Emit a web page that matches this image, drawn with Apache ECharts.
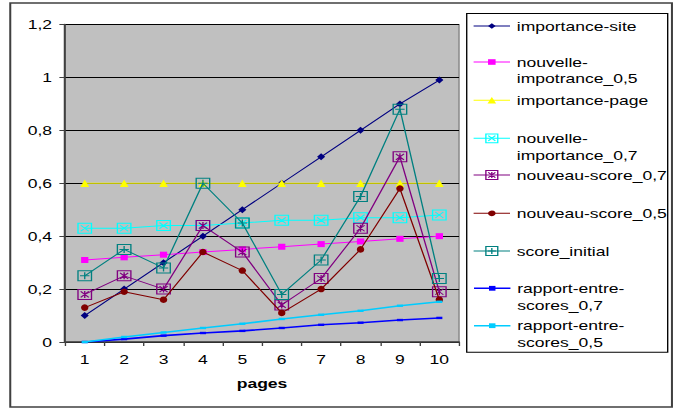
<!DOCTYPE html>
<html>
<head>
<meta charset="utf-8">
<script src="https://cdn.jsdelivr.net/npm/echarts@6/dist/echarts.min.js"></script>
<style>
  html, body { margin: 0; padding: 0; background: #fff; overflow: hidden; }
  /* drawn on a narrower canvas, then widened to the window with a horizontal stretch */
  #chart { width: 501px; height: 408px; transform: scaleX(1.3493); transform-origin: 0 0; }
</style>
</head>
<body>
<div id="chart"></div>
<script>
// ---- data ----
const pages = ['1', '2', '3', '4', '5', '6', '7', '8', '9', '10'];
const importanceSite        = [0.10, 0.20, 0.30, 0.40, 0.50, 0.60, 0.70, 0.80, 0.90, 0.99];
const nouvelleImportance05  = [0.31, 0.32, 0.33, 0.34, 0.35, 0.36, 0.37, 0.38, 0.39, 0.40];
const importancePage        = [0.60, 0.60, 0.60, 0.60, 0.60, 0.60, 0.60, 0.60, 0.60, 0.60];
const nouvelleImportance07  = [0.43, 0.43, 0.44, 0.44, 0.45, 0.46, 0.46, 0.47, 0.47, 0.48];
const nouveauScore07        = [0.18, 0.25, 0.20, 0.44, 0.34, 0.14, 0.24, 0.43, 0.70, 0.19];
const nouveauScore05        = [0.13, 0.19, 0.16, 0.34, 0.27, 0.11, 0.20, 0.35, 0.58, 0.16];
const scoreInitial          = [0.25, 0.35, 0.28, 0.60, 0.45, 0.18, 0.31, 0.55, 0.88, 0.24];
const rapportEntreScores07  = [0.000, 0.011, 0.024, 0.034, 0.042, 0.053, 0.065, 0.073, 0.083, 0.091];
const rapportEntreScores05  = [0.000, 0.019, 0.036, 0.053, 0.069, 0.087, 0.103, 0.118, 0.137, 0.152];

const seriesNames = [
  'importance-site', 'nouvelle-impotrance_0,5', 'importance-page', 'nouvelle-importance_0,7',
  'nouveau-score_0,7', 'nouveau-score_0,5', 'score_initial', 'rapport-entre-scores_0,7', 'rapport-entre-scores_0,5'
];
const legendLabels = [
  'importance-site', 'nouvelle-\nimpotrance_0,5', 'importance-page', 'nouvelle-\nimportance_0,7',
  'nouveau-score_0,7', 'nouveau-score_0,5', 'score_initial', 'rapport-entre-\nscores_0,7', 'rapport-entre-\nscores_0,5'
];
const yMin = 0, yMax = 1.2, yStep = 0.2;
const xAxisTitle = 'pages';

// ---- styling ----
const FONT = '"Liberation Sans", Arial, Helvetica, sans-serif';
const LINE_H = 16.7;
const BOX_X    = 'path://M0,0H10V10H0Z M2,2L8,8 M8,2L2,8';
const BOX_PLUS = 'path://M0,0H10V10H0Z M5,1.5V8.5 M1.5,5H8.5';
const BOX_STAR = 'path://M0,0H10V10H0Z M2,2L8,8 M8,2L2,8 M5,1.5V8.5';
const DASH     = 'path://M0,0H2V1H0Z';

const styles = [
  { values: importanceSite,       color: '#000080', symbol: 'diamond',  size: [6, 7],     lw: 1,   legendH: 7,  legendY: 26 },
  { values: nouvelleImportance05, color: '#FF00FF', symbol: 'rect',     size: [5.4, 6],   lw: 1,   legendH: 7,  legendY: 62 },
  { values: importancePage,       color: '#FFFF00', symbol: 'triangle', size: [6.4, 7.5], lw: 1,   legendH: 8,  legendY: 100.3 },
  { values: nouvelleImportance07, color: '#00FFFF', symbol: BOX_X,      size: [10, 10],   lw: 1,   legendH: 11, legendY: 138.3, boxed: true },
  { values: nouveauScore07,       color: '#800080', symbol: BOX_STAR,   size: [10, 10],   lw: 1,   legendH: 11, legendY: 175,   boxed: true },
  { values: nouveauScore05,       color: '#800000', symbol: 'circle',   size: [5.5, 6.5], lw: 1,   legendH: 7,  legendY: 213.3 },
  { values: scoreInitial,         color: '#008080', symbol: BOX_PLUS,   size: [10, 10],   lw: 1,   legendH: 11, legendY: 251,   boxed: true },
  { values: rapportEntreScores07, color: '#0000FF', symbol: DASH,       size: [4.5, 2.4], lw: 1.6, legendH: 6,  legendY: 288.3 },
  { values: rapportEntreScores05, color: '#00CCFF', symbol: DASH,       size: [4.5, 2.4], lw: 1.6, legendH: 6,  legendY: 325.7 }
];

const series = styles.map((s, i) => ({
  name: seriesNames[i],
  type: 'line',
  data: s.values,
  symbol: s.symbol,
  symbolSize: s.size,
  showAllSymbol: true,
  lineStyle: { color: s.color, width: s.lw },
  itemStyle: s.boxed
    ? { color: 'rgba(0,0,0,0)', borderColor: s.color, borderWidth: 1 }
    : { color: s.color, borderWidth: 0 },
  emphasis: { disabled: true },
  z: 2 + i
}));

// One legend block per series. A wrapped label gets an empty leading line so that,
// centred on the swatch, its first real line sits level with the swatch.
const legends = styles.map((s, i) => {
  const twoLines = legendLabels[i].indexOf('\n') >= 0;
  const label = twoLines ? '\n' + legendLabels[i] : legendLabels[i];
  const textBoxH = twoLines ? 3 * LINE_H : LINE_H;
  const blockH = Math.max(textBoxH, s.legendH);
  return {
    data: [seriesNames[i]],
    orient: 'vertical',
    left: 350.5,
    top: s.legendY - blockH / 2,
    padding: 0,
    itemWidth: 27,
    itemHeight: s.legendH,
    selectedMode: false,
    formatter: () => label,
    textStyle: { fontFamily: FONT, fontSize: 13, color: '#000', lineHeight: LINE_H },
    itemStyle: { borderWidth: s.boxed ? 1 : 0 },
    lineStyle: { width: s.lw }
  };
});

const chart = echarts.init(document.getElementById('chart'), null, { renderer: 'svg', width: 501, height: 408 });
chart.setOption({
  animation: false,
  backgroundColor: '#fff',
  textStyle: { fontFamily: FONT },
  grid: {
    left: 48.2, right: 160.8, top: 24.5, bottom: 66,
    show: true, backgroundColor: '#C0C0C0', borderColor: '#808080', borderWidth: 1
  },
  xAxis: {
    type: 'category',
    data: pages,
    boundaryGap: true,
    name: xAxisTitle,
    nameLocation: 'middle',
    nameGap: 35,
    nameTextStyle: { fontFamily: FONT, fontSize: 13, fontWeight: 'bold', color: '#000' },
    axisLine: { lineStyle: { color: '#404040', width: 1.5 } },
    axisTick: { show: true, inside: false, length: 4, lineStyle: { color: '#404040' } },
    axisLabel: { fontFamily: FONT, fontSize: 13, color: '#000', margin: 11 },
    splitLine: { show: false }
  },
  yAxis: {
    type: 'value',
    min: yMin, max: yMax, interval: yStep,
    axisLine: { show: true, lineStyle: { color: '#404040', width: 1.5 } },
    axisTick: { show: true, inside: false, length: 4.2, lineStyle: { color: '#404040' } },
    axisLabel: {
      fontFamily: FONT, fontSize: 13, color: '#000', margin: 9.6,
      formatter: v => (Math.round(v * 10) / 10).toString().replace('.', ',')
    },
    splitLine: { show: true, lineStyle: { color: '#000', width: 1 } }
  },
  legend: legends,
  graphic: [
    { type: 'rect', z: -10, silent: true,
      shape: { x: 7.6, y: 3, width: 490.4, height: 404 },
      style: { fill: 'none', stroke: '#404040', lineWidth: 1.5 } },
    { type: 'rect', z: 0, silent: true,
      shape: { x: 345.9, y: 13.4, width: 148.95, height: 338.8 },
      style: { fill: 'none', stroke: '#000', lineWidth: 1 } }
  ],
  series: series
});
</script>
</body>
</html>
